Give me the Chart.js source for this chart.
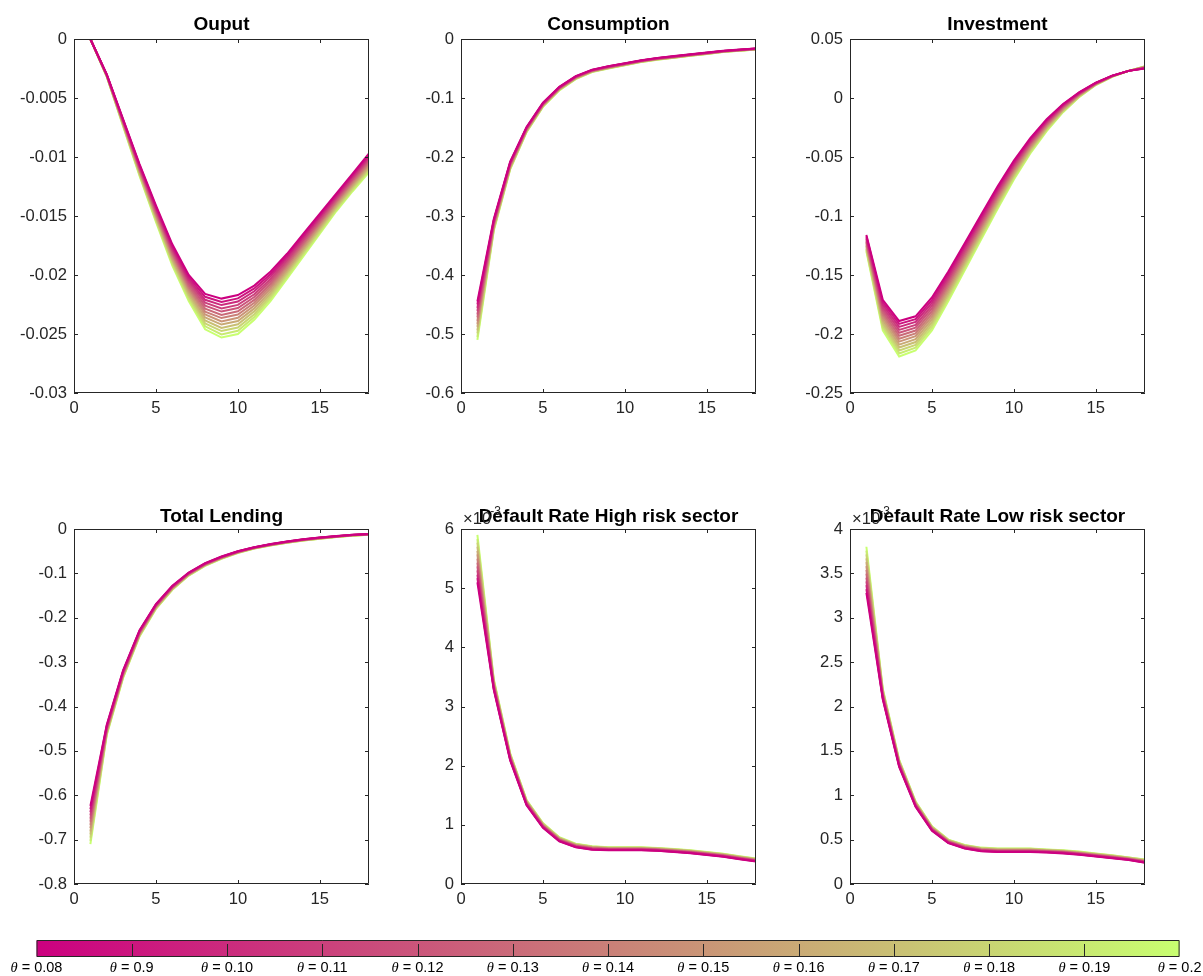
<!DOCTYPE html>
<html><head><meta charset="utf-8">
<script src="https://cdn.jsdelivr.net/npm/chart.js@4.4.0/dist/chart.umd.min.js"></script>
<style>
html,body{margin:0;padding:0;background:#fff;}
body{width:1203px;height:976px;position:relative;overflow:hidden;}
canvas{position:absolute;}
</style></head><body>
<canvas id="c0"></canvas><canvas id="c1"></canvas><canvas id="c2"></canvas>
<canvas id="c3"></canvas><canvas id="c4"></canvas><canvas id="c5"></canvas>
<canvas id="cb"></canvas>
<script>
// ---------------- DATA ----------------
const thetaLabels = ['0.08','0.9','0.10','0.11','0.12','0.13','0.14','0.15','0.16','0.17','0.18','0.19','0.2'];
const periods = [1,2,3,4,5,6,7,8,9,10,11,12,13,14,15,16,17,18];
const xTicks = [0,5,10,15];

const outputTicks = [0,-0.005,-0.01,-0.015,-0.02,-0.025,-0.03];
const consumptionTicks = [0,-0.1,-0.2,-0.3,-0.4,-0.5,-0.6];
const investmentTicks = [0.05,0,-0.05,-0.1,-0.15,-0.2,-0.25];
const lendingTicks = [0,-0.1,-0.2,-0.3,-0.4,-0.5,-0.6,-0.7,-0.8];
const defaultHighTicks = [0,1,2,3,4,5,6];
const defaultLowTicks = [0,0.5,1,1.5,2,2.5,3,3.5,4];

// each row = one period; columns = theta 0.08 ... 0.2
const output = [
 [0,0,0,0,0,0,0,0,0,0,0,0,0],
 [-0.003,-0.00302,-0.00303,-0.00305,-0.00307,-0.00308,-0.0031,-0.00312,-0.00313,-0.00315,-0.00317,-0.00318,-0.0032],
 [-0.0068,-0.00685,-0.0069,-0.00695,-0.007,-0.00705,-0.0071,-0.00715,-0.0072,-0.00725,-0.0073,-0.00735,-0.0074],
 [-0.0106,-0.01068,-0.01077,-0.01085,-0.01093,-0.01102,-0.0111,-0.01118,-0.01127,-0.01135,-0.01143,-0.01152,-0.0116],
 [-0.0141,-0.01422,-0.01433,-0.01445,-0.01457,-0.01468,-0.0148,-0.01492,-0.01503,-0.01515,-0.01527,-0.01538,-0.0155],
 [-0.0174,-0.01755,-0.0177,-0.01785,-0.018,-0.01815,-0.0183,-0.01845,-0.0186,-0.01875,-0.0189,-0.01905,-0.0192],
 [-0.02,-0.02018,-0.02037,-0.02055,-0.02073,-0.02092,-0.0211,-0.02128,-0.02147,-0.02165,-0.02183,-0.02202,-0.0222],
 [-0.0216,-0.02185,-0.0221,-0.02235,-0.0226,-0.02285,-0.0231,-0.02335,-0.0236,-0.02385,-0.0241,-0.02435,-0.0246],
 [-0.022,-0.02228,-0.02255,-0.02283,-0.0231,-0.02338,-0.02365,-0.02393,-0.0242,-0.02448,-0.02475,-0.02503,-0.0253],
 [-0.0217,-0.02198,-0.02225,-0.02253,-0.0228,-0.02308,-0.02335,-0.02363,-0.0239,-0.02418,-0.02445,-0.02473,-0.025],
 [-0.0209,-0.02114,-0.02138,-0.02163,-0.02187,-0.02211,-0.02235,-0.02259,-0.02283,-0.02308,-0.02332,-0.02356,-0.0238],
 [-0.0197,-0.01991,-0.02012,-0.02033,-0.02053,-0.02074,-0.02095,-0.02116,-0.02137,-0.02158,-0.02178,-0.02199,-0.0222],
 [-0.0182,-0.01838,-0.01855,-0.01873,-0.0189,-0.01908,-0.01925,-0.01943,-0.0196,-0.01978,-0.01995,-0.02013,-0.0203],
 [-0.0165,-0.01666,-0.01682,-0.01698,-0.01713,-0.01729,-0.01745,-0.01761,-0.01777,-0.01793,-0.01808,-0.01824,-0.0184],
 [-0.0148,-0.01494,-0.01508,-0.01523,-0.01537,-0.01551,-0.01565,-0.01579,-0.01593,-0.01608,-0.01622,-0.01636,-0.0165],
 [-0.0131,-0.01323,-0.01335,-0.01348,-0.0136,-0.01373,-0.01385,-0.01398,-0.0141,-0.01423,-0.01435,-0.01448,-0.0146],
 [-0.0114,-0.01153,-0.01165,-0.01178,-0.0119,-0.01203,-0.01215,-0.01228,-0.0124,-0.01253,-0.01265,-0.01278,-0.0129],
 [-0.0097,-0.00983,-0.00997,-0.0101,-0.01023,-0.01037,-0.0105,-0.01063,-0.01077,-0.0109,-0.01103,-0.01117,-0.0113]
];

const consumption = [
 [-0.445,-0.45,-0.456,-0.461,-0.467,-0.472,-0.478,-0.483,-0.488,-0.494,-0.499,-0.505,-0.51],
 [-0.305,-0.307,-0.308,-0.31,-0.312,-0.313,-0.315,-0.317,-0.318,-0.32,-0.322,-0.323,-0.325],
 [-0.208,-0.209,-0.21,-0.211,-0.212,-0.213,-0.2145,-0.216,-0.217,-0.218,-0.219,-0.22,-0.221],
 [-0.149,-0.1498,-0.1505,-0.1513,-0.152,-0.1528,-0.1535,-0.1543,-0.155,-0.1558,-0.1565,-0.1573,-0.158],
 [-0.108,-0.1086,-0.1092,-0.1098,-0.1103,-0.1109,-0.1115,-0.1121,-0.1127,-0.1133,-0.1138,-0.1144,-0.115],
 [-0.081,-0.0815,-0.082,-0.0825,-0.083,-0.0835,-0.084,-0.0845,-0.085,-0.0855,-0.086,-0.0865,-0.087],
 [-0.063,-0.0634,-0.0638,-0.0643,-0.0647,-0.0651,-0.0655,-0.0659,-0.0663,-0.0668,-0.0672,-0.0676,-0.068],
 [-0.052,-0.0523,-0.0527,-0.053,-0.0533,-0.0537,-0.054,-0.0543,-0.0547,-0.055,-0.0553,-0.0557,-0.056],
 [-0.046,-0.0463,-0.0467,-0.047,-0.0473,-0.0477,-0.048,-0.0483,-0.0487,-0.049,-0.0493,-0.0497,-0.05],
 [-0.041,-0.0413,-0.0416,-0.0419,-0.0422,-0.0425,-0.0428,-0.043,-0.0433,-0.0436,-0.0439,-0.0442,-0.0445],
 [-0.036,-0.0363,-0.0365,-0.0368,-0.037,-0.0373,-0.0375,-0.0378,-0.038,-0.0383,-0.0385,-0.0388,-0.039],
 [-0.032,-0.0323,-0.0325,-0.0328,-0.033,-0.0333,-0.0335,-0.0338,-0.034,-0.0343,-0.0345,-0.0348,-0.035],
 [-0.029,-0.0293,-0.0295,-0.0298,-0.03,-0.0303,-0.0305,-0.0308,-0.031,-0.0313,-0.0315,-0.0318,-0.032],
 [-0.026,-0.0262,-0.0264,-0.0266,-0.0268,-0.027,-0.0273,-0.0275,-0.0277,-0.0279,-0.0281,-0.0283,-0.0285],
 [-0.023,-0.0232,-0.0234,-0.0236,-0.0238,-0.024,-0.0243,-0.0245,-0.0247,-0.0249,-0.0251,-0.0253,-0.0255],
 [-0.02,-0.0202,-0.0203,-0.0205,-0.0207,-0.0208,-0.021,-0.0212,-0.0213,-0.0215,-0.0217,-0.0218,-0.022],
 [-0.018,-0.0182,-0.0183,-0.0185,-0.0187,-0.0188,-0.019,-0.0192,-0.0193,-0.0195,-0.0197,-0.0198,-0.02],
 [-0.016,-0.0162,-0.0163,-0.0165,-0.0167,-0.0168,-0.017,-0.0172,-0.0173,-0.0175,-0.0177,-0.0178,-0.018]
];

const investment = [
 [-0.116,-0.1172,-0.1183,-0.1195,-0.1207,-0.1218,-0.123,-0.1242,-0.1253,-0.1265,-0.1277,-0.1288,-0.13],
 [-0.171,-0.1732,-0.1753,-0.1775,-0.1797,-0.1818,-0.184,-0.1862,-0.1883,-0.1905,-0.1927,-0.1948,-0.197],
 [-0.189,-0.1915,-0.194,-0.1965,-0.199,-0.2015,-0.204,-0.2065,-0.209,-0.2115,-0.214,-0.2165,-0.219],
 [-0.185,-0.1874,-0.1898,-0.1923,-0.1947,-0.1971,-0.1995,-0.2019,-0.2043,-0.2068,-0.2092,-0.2116,-0.214],
 [-0.169,-0.1713,-0.1737,-0.176,-0.1783,-0.1807,-0.183,-0.1853,-0.1877,-0.19,-0.1923,-0.1947,-0.197],
 [-0.147,-0.1491,-0.1512,-0.1533,-0.1553,-0.1574,-0.1595,-0.1616,-0.1637,-0.1658,-0.1678,-0.1699,-0.172],
 [-0.123,-0.1249,-0.1268,-0.1288,-0.1307,-0.1326,-0.1345,-0.1364,-0.1383,-0.1403,-0.1422,-0.1441,-0.146],
 [-0.099,-0.1008,-0.1025,-0.1043,-0.106,-0.1078,-0.1095,-0.1113,-0.113,-0.1148,-0.1165,-0.1183,-0.12],
 [-0.075,-0.0766,-0.0782,-0.0798,-0.0813,-0.0829,-0.0845,-0.0861,-0.0877,-0.0893,-0.0908,-0.0924,-0.094],
 [-0.053,-0.0543,-0.0557,-0.057,-0.0583,-0.0597,-0.061,-0.0623,-0.0637,-0.065,-0.0663,-0.0677,-0.069],
 [-0.034,-0.0351,-0.0362,-0.0373,-0.0383,-0.0394,-0.0405,-0.0416,-0.0427,-0.0438,-0.0448,-0.0459,-0.047],
 [-0.018,-0.0188,-0.0197,-0.0205,-0.0213,-0.0222,-0.023,-0.0238,-0.0247,-0.0255,-0.0263,-0.0272,-0.028],
 [-0.005,-0.0056,-0.0062,-0.0068,-0.0073,-0.0079,-0.0085,-0.0091,-0.0097,-0.0103,-0.0108,-0.0114,-0.012],
 [0.005,0.0047,0.0043,0.004,0.0037,0.0033,0.003,0.0027,0.0023,0.002,0.0017,0.0013,0.001],
 [0.013,0.0128,0.0127,0.0125,0.0123,0.0122,0.012,0.0118,0.0117,0.0115,0.0113,0.0112,0.011],
 [0.019,0.0189,0.0188,0.0188,0.0187,0.0186,0.0185,0.0184,0.0183,0.0183,0.0182,0.0181,0.018],
 [0.023,0.023,0.023,0.023,0.023,0.023,0.023,0.023,0.023,0.023,0.023,0.023,0.023],
 [0.025,0.0252,0.0253,0.0255,0.0257,0.0258,0.026,0.0262,0.0263,0.0265,0.0267,0.0268,0.027]
];

const lending = [
 [-0.624,-0.6312,-0.6383,-0.6455,-0.6527,-0.6598,-0.667,-0.6742,-0.6813,-0.6885,-0.6957,-0.7028,-0.71],
 [-0.441,-0.4429,-0.4448,-0.4468,-0.4487,-0.4506,-0.4525,-0.4544,-0.4563,-0.4583,-0.4602,-0.4621,-0.464],
 [-0.318,-0.3194,-0.3208,-0.3223,-0.3237,-0.3251,-0.3265,-0.3279,-0.3293,-0.3308,-0.3322,-0.3336,-0.335],
 [-0.228,-0.2292,-0.2303,-0.2315,-0.2327,-0.2338,-0.235,-0.2362,-0.2373,-0.2385,-0.2397,-0.2408,-0.242],
 [-0.169,-0.1699,-0.1708,-0.1718,-0.1727,-0.1736,-0.1745,-0.1754,-0.1763,-0.1773,-0.1782,-0.1791,-0.18],
 [-0.128,-0.1288,-0.1295,-0.1303,-0.131,-0.1318,-0.1325,-0.1333,-0.134,-0.1348,-0.1355,-0.1363,-0.137],
 [-0.098,-0.0986,-0.0992,-0.0998,-0.1003,-0.1009,-0.1015,-0.1021,-0.1027,-0.1033,-0.1038,-0.1044,-0.105],
 [-0.077,-0.0775,-0.078,-0.0785,-0.079,-0.0795,-0.08,-0.0805,-0.081,-0.0815,-0.082,-0.0825,-0.083],
 [-0.062,-0.0624,-0.0628,-0.0633,-0.0637,-0.0641,-0.0645,-0.0649,-0.0653,-0.0658,-0.0662,-0.0666,-0.067],
 [-0.05,-0.0503,-0.0507,-0.051,-0.0513,-0.0517,-0.052,-0.0523,-0.0527,-0.053,-0.0533,-0.0537,-0.054],
 [-0.041,-0.0413,-0.0415,-0.0418,-0.042,-0.0423,-0.0425,-0.0428,-0.043,-0.0433,-0.0435,-0.0438,-0.044],
 [-0.034,-0.0343,-0.0345,-0.0348,-0.035,-0.0353,-0.0355,-0.0358,-0.036,-0.0363,-0.0365,-0.0368,-0.037],
 [-0.028,-0.0283,-0.0285,-0.0288,-0.029,-0.0293,-0.0295,-0.0298,-0.03,-0.0303,-0.0305,-0.0308,-0.031],
 [-0.023,-0.0233,-0.0235,-0.0238,-0.024,-0.0243,-0.0245,-0.0248,-0.025,-0.0253,-0.0255,-0.0258,-0.026],
 [-0.019,-0.0193,-0.0195,-0.0198,-0.02,-0.0203,-0.0205,-0.0208,-0.021,-0.0213,-0.0215,-0.0218,-0.022],
 [-0.016,-0.0162,-0.0163,-0.0165,-0.0167,-0.0168,-0.017,-0.0172,-0.0173,-0.0175,-0.0177,-0.0178,-0.018],
 [-0.013,-0.0132,-0.0133,-0.0135,-0.0137,-0.0138,-0.014,-0.0142,-0.0143,-0.0145,-0.0147,-0.0148,-0.015],
 [-0.011,-0.0112,-0.0113,-0.0115,-0.0117,-0.0118,-0.012,-0.0122,-0.0123,-0.0125,-0.0127,-0.0128,-0.013]
];

// default rates in units of 1e-3 (axis shows x10^-3)
const defaultHigh = [
 [5.1,5.17,5.23,5.3,5.37,5.43,5.5,5.57,5.63,5.7,5.77,5.83,5.9],
 [3.28,3.295,3.31,3.325,3.34,3.355,3.37,3.385,3.4,3.415,3.43,3.445,3.46],
 [2.09,2.1,2.11,2.12,2.13,2.14,2.15,2.16,2.17,2.18,2.19,2.2,2.21],
 [1.33,1.338,1.345,1.353,1.36,1.368,1.375,1.383,1.39,1.398,1.405,1.413,1.42],
 [0.95,0.957,0.963,0.97,0.977,0.983,0.99,0.997,1.003,1.01,1.017,1.023,1.03],
 [0.72,0.726,0.732,0.738,0.743,0.749,0.755,0.761,0.767,0.773,0.778,0.784,0.79],
 [0.62,0.625,0.63,0.635,0.64,0.645,0.65,0.655,0.66,0.665,0.67,0.675,0.68],
 [0.58,0.585,0.59,0.595,0.6,0.605,0.61,0.615,0.62,0.625,0.63,0.635,0.64],
 [0.57,0.574,0.578,0.583,0.587,0.591,0.595,0.599,0.603,0.608,0.612,0.616,0.62],
 [0.57,0.574,0.578,0.583,0.587,0.591,0.595,0.599,0.603,0.608,0.612,0.616,0.62],
 [0.57,0.574,0.578,0.583,0.587,0.591,0.595,0.599,0.603,0.608,0.612,0.616,0.62],
 [0.56,0.564,0.568,0.573,0.577,0.581,0.585,0.589,0.593,0.598,0.602,0.606,0.61],
 [0.54,0.544,0.548,0.553,0.557,0.561,0.565,0.569,0.573,0.578,0.582,0.586,0.59],
 [0.52,0.524,0.528,0.533,0.537,0.541,0.545,0.549,0.553,0.558,0.562,0.566,0.57],
 [0.49,0.494,0.498,0.503,0.507,0.511,0.515,0.519,0.523,0.528,0.532,0.536,0.54],
 [0.46,0.464,0.468,0.473,0.477,0.481,0.485,0.489,0.493,0.498,0.502,0.506,0.51],
 [0.42,0.424,0.428,0.433,0.437,0.441,0.445,0.449,0.453,0.458,0.462,0.466,0.47],
 [0.38,0.384,0.388,0.393,0.397,0.401,0.405,0.409,0.413,0.418,0.422,0.426,0.43]
];

const defaultLow = [
 [3.28,3.323,3.367,3.41,3.453,3.497,3.54,3.583,3.627,3.67,3.713,3.757,3.8],
 [2.08,2.09,2.1,2.11,2.12,2.13,2.14,2.15,2.16,2.17,2.18,2.19,2.2],
 [1.32,1.327,1.333,1.34,1.347,1.353,1.36,1.367,1.373,1.38,1.387,1.393,1.4],
 [0.87,0.875,0.88,0.885,0.89,0.895,0.9,0.905,0.91,0.915,0.92,0.925,0.93],
 [0.6,0.604,0.608,0.613,0.617,0.621,0.625,0.629,0.633,0.638,0.642,0.646,0.65],
 [0.46,0.463,0.467,0.47,0.473,0.477,0.48,0.483,0.487,0.49,0.493,0.497,0.5],
 [0.4,0.403,0.407,0.41,0.413,0.417,0.42,0.423,0.427,0.43,0.433,0.437,0.44],
 [0.37,0.373,0.377,0.38,0.383,0.387,0.39,0.393,0.397,0.4,0.403,0.407,0.41],
 [0.36,0.363,0.367,0.37,0.373,0.377,0.38,0.383,0.387,0.39,0.393,0.397,0.4],
 [0.36,0.363,0.367,0.37,0.373,0.377,0.38,0.383,0.387,0.39,0.393,0.397,0.4],
 [0.36,0.363,0.367,0.37,0.373,0.377,0.38,0.383,0.387,0.39,0.393,0.397,0.4],
 [0.355,0.358,0.361,0.364,0.367,0.37,0.3725,0.375,0.378,0.381,0.384,0.387,0.39],
 [0.345,0.348,0.351,0.354,0.357,0.36,0.3625,0.365,0.368,0.371,0.374,0.377,0.38],
 [0.33,0.333,0.336,0.339,0.342,0.345,0.3475,0.35,0.353,0.356,0.359,0.362,0.365],
 [0.31,0.313,0.316,0.319,0.322,0.325,0.3275,0.33,0.333,0.336,0.339,0.342,0.345],
 [0.29,0.293,0.296,0.299,0.302,0.305,0.3075,0.31,0.313,0.316,0.319,0.322,0.325],
 [0.27,0.2725,0.275,0.2775,0.28,0.2825,0.285,0.2875,0.29,0.2925,0.295,0.2975,0.3],
 [0.24,0.243,0.246,0.249,0.252,0.255,0.2575,0.26,0.263,0.266,0.269,0.272,0.275]
];

// ---------------- STYLE / LAYOUT ----------------
const FONT = "'Liberation Sans', Arial, Helvetica, sans-serif";
const AX = '#262626';
const C0 = [204, 0, 128], C1 = [200, 255, 112];
function mix(t) {
  return 'rgb(' + C0.map((c, i) => Math.round(c + (C1[i] - c) * t)).join(',') + ')';
}
const PLOT_W = 295, Y_W = 74, R_PAD = 12, X_H = 30, T_H = 32;
const TICK_SIZE = 16.6, TITLE_SIZE = 19;
const colLeft = [74, 461, 850];
const rowTop = [39, 529];
const rowH = [354, 355];

const panels = [
  {id:'c0', title:'Ouput', data:output, yTicks:outputTicks, col:0, row:0},
  {id:'c1', title:'Consumption', data:consumption, yTicks:consumptionTicks, col:1, row:0},
  {id:'c2', title:'Investment', data:investment, yTicks:investmentTicks, col:2, row:0},
  {id:'c3', title:'Total Lending', data:lending, yTicks:lendingTicks, col:0, row:1},
  {id:'c4', title:'Default Rate High risk sector', data:defaultHigh, yTicks:defaultHighTicks, col:1, row:1, exp:true},
  {id:'c5', title:'Default Rate Low risk sector', data:defaultLow, yTicks:defaultLowTicks, col:2, row:1, exp:true}
];

function fmt(v) { return String(+(+v).toFixed(4)); }

const boxPlugin = {
  id: 'boxTicks',
  afterDatasetsDraw(chart) {
    const {ctx, chartArea: a, scales: {x, y}} = chart;
    ctx.save();
    ctx.strokeStyle = AX;
    ctx.lineWidth = 1;
    ctx.beginPath();
    ctx.rect(a.left + 0.5, a.top + 0.5, a.right - a.left - 1, a.bottom - a.top - 1);
    const L = 4;
    x.ticks.forEach(t => {
      const p = Math.round(x.getPixelForValue(t.value)) + 0.5;
      ctx.moveTo(p, a.bottom); ctx.lineTo(p, a.bottom - L);
      ctx.moveTo(p, a.top); ctx.lineTo(p, a.top + L);
    });
    y.ticks.forEach(t => {
      const p = Math.round(y.getPixelForValue(t.value)) + 0.5;
      ctx.moveTo(a.left, p); ctx.lineTo(a.left + L, p);
      ctx.moveTo(a.right, p); ctx.lineTo(a.right - L, p);
    });
    ctx.stroke();
    ctx.restore();
  },
  afterDraw(chart) {
    const opt = chart.options.plugins.expLabel;
    if (!opt || !opt.show) return;
    const {ctx, chartArea: a} = chart;
    ctx.save();
    ctx.fillStyle = AX;
    ctx.textAlign = 'left';
    ctx.textBaseline = 'alphabetic';
    ctx.font = TICK_SIZE + 'px ' + FONT;
    const base = '\u00d710';
    ctx.fillText(base, a.left + 2, a.top - 5);
    const w = ctx.measureText(base).width;
    ctx.font = '12px ' + FONT;
    ctx.fillText('-3', a.left + 2 + w - 1, a.top - 14);
    ctx.restore();
  }
};

panels.forEach(p => {
  const cv = document.getElementById(p.id);
  const h = rowH[p.row];
  const W = Y_W + PLOT_W + R_PAD, H = T_H + h + X_H;
  cv.width = W; cv.height = H;
  cv.style.width = W + 'px'; cv.style.height = H + 'px';
  cv.style.left = (colLeft[p.col] - Y_W) + 'px';
  cv.style.top = (rowTop[p.row] - T_H) + 'px';
  const tPad = p.row === 0 ? {top: 6.6, bottom: 2.6} : {top: 8.6, bottom: 0.6};
  const datasets = thetaLabels.map((lab, k) => ({
    label: '\u03b8 = ' + lab,
    data: periods.map((x, i) => ({x: x, y: p.data[i][k]})),
    borderColor: mix(k / (thetaLabels.length - 1)),
    borderWidth: 2,
    pointRadius: 0,
    tension: 0,
    fill: false
  }));
  new Chart(cv, {
    type: 'line',
    data: {datasets},
    options: {
      responsive: false,
      animation: false,
      devicePixelRatio: 1,
      events: [],
      layout: {padding: {left: 0, right: R_PAD, top: 0, bottom: 0}},
      plugins: {
        legend: {display: false},
        tooltip: {enabled: false},
        title: {display: true, fullSize: false, text: p.title, color: '#000',
          font: {family: FONT, size: TITLE_SIZE, weight: 'bold'}, padding: tPad},
        expLabel: {show: !!p.exp}
      },
      scales: {
        x: {
          type: 'linear', min: 0, max: 18,
          afterBuildTicks: s => { s.ticks = xTicks.map(v => ({value: v})); },
          afterFit: s => { s.height = X_H; },
          grid: {display: false, drawTicks: false},
          border: {display: false},
          ticks: {color: AX, font: {family: FONT, size: TICK_SIZE}, padding: 5, maxRotation: 0, autoSkip: false, callback: v => fmt(v)}
        },
        y: {
          type: 'linear',
          min: Math.min(...p.yTicks), max: Math.max(...p.yTicks),
          afterBuildTicks: s => { s.ticks = p.yTicks.map(v => ({value: v})); },
          afterFit: s => { s.width = Y_W; },
          grid: {display: false, drawTicks: false},
          border: {display: false},
          ticks: {color: AX, font: {family: FONT, size: TICK_SIZE}, padding: 7, autoSkip: false, callback: v => fmt(v)}
        }
      }
    },
    plugins: [boxPlugin]
  });
});

// ---------------- COLORBAR ----------------
const cbPlugin = {
  id: 'cbDecor',
  afterDatasetsDraw(chart) {
    const {ctx, chartArea: a, scales: {x}} = chart;
    ctx.save();
    ctx.strokeStyle = AX;
    ctx.lineWidth = 1;
    ctx.beginPath();
    ctx.rect(a.left + 0.5, a.top + 0.5, a.right - a.left - 1, a.bottom - a.top - 1);
    x.ticks.forEach((t, i) => {
      if (i === 0 || i === x.ticks.length - 1) return;
      const p = Math.round(x.getPixelForValue(t.value)) + 0.5;
      ctx.moveTo(p, a.bottom); ctx.lineTo(p, a.bottom - 13);
    });
    ctx.stroke();
    ctx.fillStyle = '#000';
    ctx.textBaseline = 'middle';
    ctx.textAlign = 'left';
    x.ticks.forEach((t, i) => {
      const px = x.getPixelForValue(t.value);
      const f1 = "italic 14.5px 'Liberation Serif', 'Times New Roman', serif";
      const f2 = '14.5px ' + FONT;
      const s1 = '\u03b8', s2 = ' = ' + thetaLabels[i];
      ctx.font = f1; const w1 = ctx.measureText(s1).width;
      ctx.font = f2; const w2 = ctx.measureText(s2).width;
      const x0 = px - (w1 + w2) / 2;
      const yy = a.bottom + 11;
      ctx.font = f1; ctx.fillText(s1, x0, yy);
      ctx.font = f2; ctx.fillText(s2, x0 + w1, yy);
    });
    ctx.restore();
  }
};

(function () {
  const cv = document.getElementById('cb');
  const W = 1203, H = 46;
  cv.width = W; cv.height = H;
  cv.style.width = W + 'px'; cv.style.height = H + 'px';
  cv.style.left = '0px'; cv.style.top = '930px';
  new Chart(cv, {
    type: 'bar',
    data: {
      labels: ['theta'],
      datasets: [{
        data: [[0, thetaLabels.length - 1]],
        barPercentage: 1, categoryPercentage: 1, borderWidth: 0, borderSkipped: false,
        backgroundColor: c => {
          const a = c.chart.chartArea;
          if (!a) return mix(0);
          const g = c.chart.ctx.createLinearGradient(a.left, 0, a.right, 0);
          g.addColorStop(0, mix(0));
          g.addColorStop(0.5, mix(0.5));
          g.addColorStop(1, mix(1));
          return g;
        }
      }]
    },
    options: {
      indexAxis: 'y',
      responsive: false,
      animation: false,
      devicePixelRatio: 1,
      events: [],
      layout: {padding: {left: 36.5, right: 23.4, top: 10, bottom: 0}},
      plugins: {legend: {display: false}, tooltip: {enabled: false}},
      scales: {
        x: {
          type: 'linear', min: 0, max: thetaLabels.length - 1,
          afterBuildTicks: s => { s.ticks = thetaLabels.map((_, i) => ({value: i})); },
          afterFit: s => { s.height = 19; },
          grid: {display: false, drawTicks: false},
          border: {display: false},
          ticks: {display: false}
        },
        y: {display: false}
      }
    },
    plugins: [cbPlugin]
  });
})();
</script>
</body></html>
